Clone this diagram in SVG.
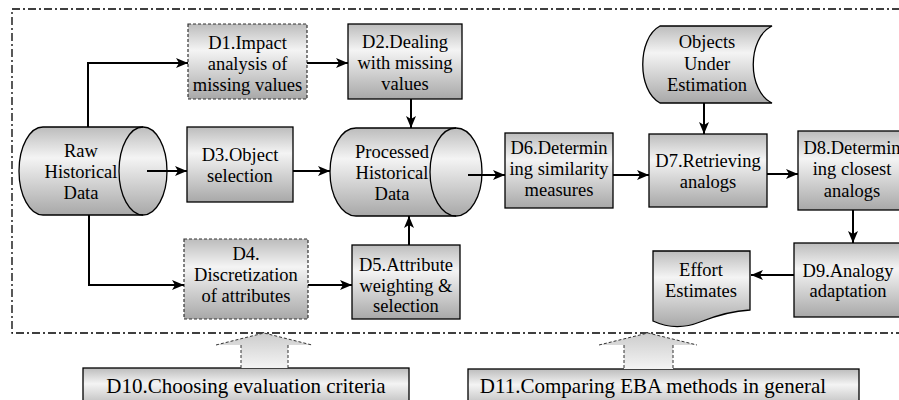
<svg xmlns="http://www.w3.org/2000/svg" width="899" height="400" viewBox="0 0 899 400" font-family="'Liberation Serif', serif">
<defs>
<linearGradient id="g" x1="0" y1="0" x2="0" y2="1">
<stop offset="0" stop-color="#bcbcbc"/>
<stop offset="0.35" stop-color="#f4f4f4"/>
<stop offset="1" stop-color="#a8a8a8"/>
</linearGradient>
<linearGradient id="ga" x1="0" y1="0" x2="0" y2="1">
<stop offset="0" stop-color="#cccccc"/>
<stop offset="1" stop-color="#f4f4f4"/>
</linearGradient>
<marker id="ah" viewBox="0 0 12 10" refX="12" refY="5" markerWidth="12" markerHeight="10" markerUnits="userSpaceOnUse" orient="auto">
<path d="M0,0 L12,5 L0,10 L3,5 Z" fill="#000"/>
</marker>
</defs>
<style>
.box{fill:url(#g);stroke:#000;stroke-width:1.3}
.dbox{fill:url(#g);stroke:#333;stroke-width:1.2;stroke-dasharray:3,2}
text{font-family:'Liberation Serif',serif;fill:#000;text-anchor:middle;font-weight:normal}
.t{font-size:18.5px}
.tb{font-size:21px}
.c{fill:none;stroke:#000;stroke-width:2;marker-end:url(#ah)}
.frame{fill:none;stroke:#000;stroke-width:1.3;stroke-dasharray:8,3,2,3}
.ha{fill:url(#ga);stroke:none}
.hs{fill:none;stroke:#333;stroke-width:1;stroke-dasharray:3,2}
</style>
<rect class="frame" x="12" y="9" width="900" height="324"/>

<g id="raw">
<path class="box" d="M43,127 L143,127 A24,44 0 0 1 143,215 L43,215 A24,44 0 0 1 43,127 Z"/>
<path fill="none" stroke="#000" stroke-width="1.3" d="M143,127 A24,44 0 0 0 143,215"/>
<text class="t" x="81" y="157">Raw</text>
<text class="t" x="81" y="178">Historical</text>
<text class="t" x="81" y="199">Data</text>
</g>

<g id="d1">
<rect class="dbox" x="188" y="24" width="119" height="75"/>
<text class="t" x="247.5" y="49">D1.Impact</text>
<text class="t" x="247.5" y="70">analysis of</text>
<text class="t" x="247.5" y="91">missing values</text>
</g>

<g id="d2">
<rect class="box" x="348" y="24" width="114" height="75"/>
<text class="t" x="405" y="48">D2.Dealing</text>
<text class="t" x="405" y="69">with missing</text>
<text class="t" x="405" y="90">values</text>
</g>

<g id="d3">
<rect class="box" x="187" y="127" width="106" height="75"/>
<text class="t" x="240" y="161">D3.Object</text>
<text class="t" x="240" y="182">selection</text>
</g>

<g id="processed">
<path class="box" d="M356,128 L456,128 A26,44 0 0 1 456,216 L356,216 A26,44 0 0 1 356,128 Z"/>
<path fill="none" stroke="#000" stroke-width="1.3" d="M456,128 A26,44 0 0 0 456,216"/>
<text class="t" x="392" y="158">Processed</text>
<text class="t" x="392" y="179">Historical</text>
<text class="t" x="392" y="200">Data</text>
</g>

<g id="d4">
<rect class="dbox" x="184" y="239" width="124" height="80"/>
<text class="t" x="246" y="260">D4.</text>
<text class="t" x="246" y="281">Discretization</text>
<text class="t" x="246" y="302">of attributes</text>
</g>

<g id="d5">
<rect class="box" x="352" y="245" width="108" height="74"/>
<text class="t" x="406" y="271">D5.Attribute</text>
<text class="t" x="406" y="292">weighting &amp;</text>
<text class="t" x="406" y="312">selection</text>
</g>

<g id="d6">
<rect class="box" x="505" y="133" width="108" height="75"/>
<text class="t" x="559" y="154">D6.Determin</text>
<text class="t" x="559" y="175">ing similarity</text>
<text class="t" x="559" y="196">measures</text>
</g>

<g id="objects">
<path class="box" d="M660,26 L772,26 C747,38 747,91 772,103 L660,103 C637,91 637,38 660,26 Z"/>
<text class="t" x="707" y="48">Objects</text>
<text class="t" x="707" y="70">Under</text>
<text class="t" x="707" y="91">Estimation</text>
</g>

<g id="d7">
<rect class="box" x="649" y="134" width="118" height="73"/>
<text class="t" x="708" y="167">D7.Retrieving</text>
<text class="t" x="708" y="188">analogs</text>
</g>

<g id="d8">
<rect class="box" x="798" y="131" width="108" height="79"/>
<text class="t" x="852" y="154">D8.Determin</text>
<text class="t" x="852" y="175">ing closest</text>
<text class="t" x="852" y="197">analogs</text>
</g>

<g id="d9">
<rect class="box" x="794" y="243" width="108" height="74"/>
<text class="t" x="848" y="277">D9.Analogy</text>
<text class="t" x="848" y="297">adaptation</text>
</g>

<g id="effort">
<path class="box" d="M653,251 L750,251 L750,310 C730,311 715,316 700,322 C685,328 668,328 653,321 Z"/>
<text class="t" x="701" y="276">Effort</text>
<text class="t" x="701" y="297">Estimates</text>
</g>

<g id="d10">
<rect class="box" x="83" y="368" width="326" height="45"/>
<text class="tb" x="246" y="393">D10.Choosing evaluation criteria</text>
</g>

<g id="d11">
<rect class="box" x="468" y="369" width="391" height="45"/>
<text class="tb" x="653" y="393">D11.Comparing EBA methods in general</text>
</g>

<g id="connectors">
<polyline class="c" points="88,127 88,63 188,63"/>
<polyline class="c" points="89,215 89,285 184,285"/>
<line class="c" x1="147" y1="171" x2="187" y2="171"/>
<line class="c" x1="307" y1="63" x2="348" y2="63"/>
<line class="c" x1="293" y1="171" x2="330" y2="171"/>
<line class="c" x1="411" y1="99" x2="411" y2="128"/>
<line class="c" x1="409" y1="245" x2="409" y2="216"/>
<line class="c" x1="308" y1="285" x2="352" y2="285"/>
<line class="c" x1="468" y1="175" x2="505" y2="175"/>
<line class="c" x1="613" y1="175" x2="649" y2="175"/>
<line class="c" x1="704" y1="103" x2="704" y2="134"/>
<line class="c" x1="767" y1="174" x2="798" y2="174"/>
<line class="c" x1="853" y1="210" x2="853" y2="243"/>
<line class="c" x1="794" y1="275" x2="751" y2="275"/>
<polygon class="ha" points="264,333 312,345 288,345 288,368 241,368 241,345 216,345"/>
<polyline class="hs" points="216,345 264,333 312,345"/>
<line class="hs" x1="241" y1="345" x2="241" y2="368"/>
<line class="hs" x1="288" y1="345" x2="288" y2="368"/>
<polygon class="ha" points="648,333 697,345 673,345 673,369 624,369 624,345 599,345"/>
<polyline class="hs" points="599,345 648,333 697,345"/>
<line class="hs" x1="624" y1="345" x2="624" y2="369"/>
<line class="hs" x1="673" y1="345" x2="673" y2="369"/>
</g>
</svg>
